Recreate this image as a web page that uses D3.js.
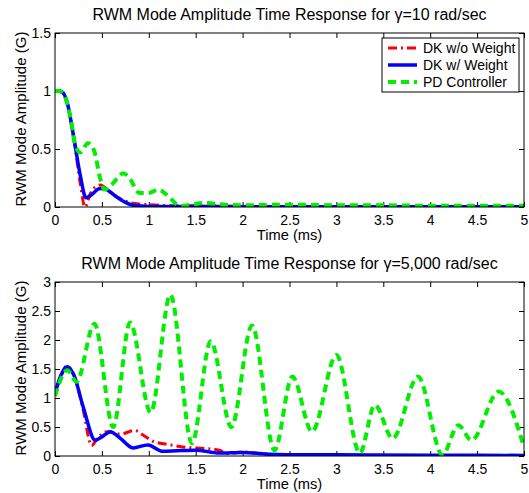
<!DOCTYPE html>
<html>
<head>
<meta charset="utf-8">
<script src="https://cdn.jsdelivr.net/npm/d3@7"></script>
<style>
  html, body { margin: 0; padding: 0; background: #fff; }
  svg { display: block; }
  text { font-family: "Liberation Sans", Arial, Helvetica, sans-serif; fill: #000; }
</style>
</head>
<body>
<svg id="chart" width="529" height="493"></svg>
<script>
// ---------- DATA ----------
const seriesNames = ["DK w/o Weight", "DK w/ Weight", "PD Controller"];
const xTicks = [0, 0.5, 1, 1.5, 2, 2.5, 3, 3.5, 4, 4.5, 5];
const yTicksTop = [0, 0.5, 1, 1.5];
const yTicksBottom = [0, 0.5, 1, 1.5, 2, 2.5, 3];
const titleTopGamma = "10";
const titleBottomGamma = "5,000";

// top panel (gamma = 10 rad/sec): [time ms, amplitude G]
const topDkNoWeight = [[0,1],[0.04,1],[0.08,0.99],[0.13,0.9],[0.2,0.6],[0.27,0.2],[0.32,0.0],[0.38,0.12],[0.48,0.19],[0.6,0.12],[0.75,0.05],[0.85,0.03],[1.0,0.02],[1.2,0.012],[1.5,0.01],[2,0.006],[3,0.004],[4,0.003],[5,0.002]];
const topDkWeight = [[0,1],[0.04,1],[0.08,0.99],[0.13,0.9],[0.2,0.6],[0.27,0.27],[0.33,0.08],[0.38,0.1],[0.48,0.16],[0.55,0.15],[0.65,0.09],[0.75,0.04],[0.85,0.012],[1.0,0.005],[1.5,0.004],[2,0.003],[3,0.003],[4,0.003],[5,0.003]];
const topPd = [[0,1],[0.04,1],[0.07,0.99],[0.12,0.92],[0.17,0.75],[0.22,0.52],[0.27,0.47],[0.35,0.55],[0.42,0.48],[0.48,0.25],[0.53,0.15],[0.6,0.19],[0.73,0.29],[0.8,0.24],[0.9,0.12],[1.0,0.12],[1.1,0.15],[1.2,0.1],[1.33,0.01],[1.45,0.02],[1.6,0.035],[1.8,0.02],[2.0,0.015],[2.5,0.02],[3,0.015],[3.5,0.015],[4,0.01],[5,0.01]];

// bottom panel (gamma = 5,000 rad/sec)
const botDkNoWeight = [[0,1.1],[0.06,1.35],[0.12,1.55],[0.2,1.4],[0.3,0.8],[0.39,0.18],[0.45,0.3],[0.55,0.42],[0.7,0.38],[0.85,0.44],[0.95,0.35],[1.05,0.25],[1.2,0.2],[1.4,0.15],[1.6,0.13],[1.75,0.1],[1.85,0.04],[2.0,0.07],[2.2,0.04],[2.4,0.012],[2.6,0.02],[3,0.01],[4,0.006],[5,0.005]];
const botDkWeight = [[0,1.08],[0.06,1.38],[0.13,1.54],[0.2,1.4],[0.3,0.85],[0.43,0.27],[0.5,0.33],[0.59,0.42],[0.7,0.3],[0.83,0.14],[0.99,0.19],[1.15,0.08],[1.3,0.09],[1.5,0.1],[1.75,0.05],[2.0,0.06],[2.3,0.03],[2.6,0.02],[3,0.02],[4,0.015],[5,0.01]];
const botPd = [[0,1.03],[0.13,1.48],[0.23,1.28],[0.42,2.28],[0.62,0.5],[0.8,2.3],[1.02,0.75],[1.23,2.78],[1.46,0.22],[1.66,1.98],[1.88,0.5],[2.1,2.25],[2.34,0.1],[2.53,1.37],[2.74,0.42],[3.0,1.74],[3.25,0.05],[3.41,0.88],[3.6,0.3],[3.87,1.37],[4.13,0.02],[4.3,0.53],[4.44,0.27],[4.73,1.11],[5.0,0.15]];

// ---------- STYLE ----------
const styles = [
  { color: "#ff0000", width: 3, dash: "9,4,2,4" },
  { color: "#0000ff", width: 3.5, dash: null },
  { color: "#00ee00", width: 4, dash: "8,5" }
];

const svg = d3.select("#chart");

function panel(cfg) {
  const { left, right, top, bottom, yMax, yTicks, data, gamma, id, legend } = cfg;
  const x = d3.scaleLinear().domain([0, 5]).range([left, right]);
  const y = d3.scaleLinear().domain([0, yMax]).range([bottom, top]);
  const g = svg.append("g");

  g.append("clipPath").attr("id", id).append("rect")
    .attr("x", left).attr("y", top).attr("width", right - left).attr("height", bottom - top);

  const tickLen = 5;
  g.append("g").attr("transform", `translate(0,${bottom})`)
    .call(d3.axisBottom(x).tickValues(xTicks).tickSize(-tickLen).tickPadding(8).tickFormat(d3.format("")))
    .call(a => a.select(".domain").remove());
  g.append("g").attr("transform", `translate(0,${top})`)
    .call(d3.axisTop(x).tickValues(xTicks).tickSize(-tickLen).tickFormat(""))
    .call(a => a.select(".domain").remove());
  g.append("g").attr("transform", `translate(${left},0)`)
    .call(d3.axisLeft(y).tickValues(yTicks).tickSize(-tickLen).tickPadding(4).tickFormat(d3.format("")))
    .call(a => a.select(".domain").remove());
  g.append("g").attr("transform", `translate(${right},0)`)
    .call(d3.axisRight(y).tickValues(yTicks).tickSize(-tickLen).tickFormat(""))
    .call(a => a.select(".domain").remove());
  g.selectAll(".tick text").attr("font-size", 14).attr("font-family", "Liberation Sans, Arial, sans-serif").attr("fill", "#000");
  g.selectAll(".tick line").attr("stroke", "#000");

  const line = d3.line().x(d => x(d[0])).y(d => y(d[1])).curve(d3.curveMonotoneX);
  const lines = g.append("g").attr("clip-path", `url(#${id})`);
  data.forEach((s, i) => {
    lines.append("path").datum(s)
      .attr("d", line)
      .attr("fill", "none")
      .attr("stroke", styles[i].color)
      .attr("stroke-width", styles[i].width)
      .attr("stroke-dasharray", styles[i].dash)
      .attr("stroke-linejoin", "round");
  });

  g.append("rect").attr("x", left).attr("y", top).attr("width", right - left).attr("height", bottom - top)
    .attr("fill", "none").attr("stroke", "#000").attr("stroke-width", 1);

  const t = g.append("text").attr("x", (left + right) / 2).attr("y", top - 13)
    .attr("text-anchor", "middle").attr("font-size", 16);
  t.append("tspan").text("RWM Mode Amplitude Time Response for ");
  t.append("tspan").text("γ");
  t.append("tspan").text("=" + gamma + " rad/sec");

  g.append("text").attr("x", (left + right) / 2).attr("y", bottom + 33)
    .attr("text-anchor", "middle").attr("font-size", 14.7).text("Time (ms)");
  g.append("text").attr("transform", `translate(26,${(top + bottom) / 2 - 1}) rotate(-90)`)
    .attr("text-anchor", "middle").attr("font-size", 15).text("RWM Mode Amplitude (G)");

  if (legend) {
    const lx = 382, ly = 38, lw = 137, lh = 54;
    const lg = g.append("g");
    lg.append("rect").attr("x", lx).attr("y", ly).attr("width", lw).attr("height", lh)
      .attr("fill", "#fff").attr("stroke", "#000").attr("stroke-width", 1);
    seriesNames.forEach((n, i) => {
      const yy = ly + 10 + i * 17;
      lg.append("line").attr("x1", lx + 6).attr("x2", lx + 35).attr("y1", yy).attr("y2", yy)
        .attr("stroke", styles[i].color).attr("stroke-width", styles[i].width)
        .attr("stroke-dasharray", styles[i].dash);
      lg.append("text").attr("x", lx + 41).attr("y", yy + 5).attr("font-size", 14).text(n);
    });
  }
}

panel({ left: 55, right: 524, top: 33, bottom: 207, yMax: 1.5, yTicks: yTicksTop,
        data: [topDkNoWeight, topDkWeight, topPd], gamma: titleTopGamma, id: "clipTop", legend: true });
panel({ left: 55, right: 524, top: 282, bottom: 456, yMax: 3, yTicks: yTicksBottom,
        data: [botDkNoWeight, botDkWeight, botPd], gamma: titleBottomGamma, id: "clipBot", legend: false });
</script>
</body>
</html>
